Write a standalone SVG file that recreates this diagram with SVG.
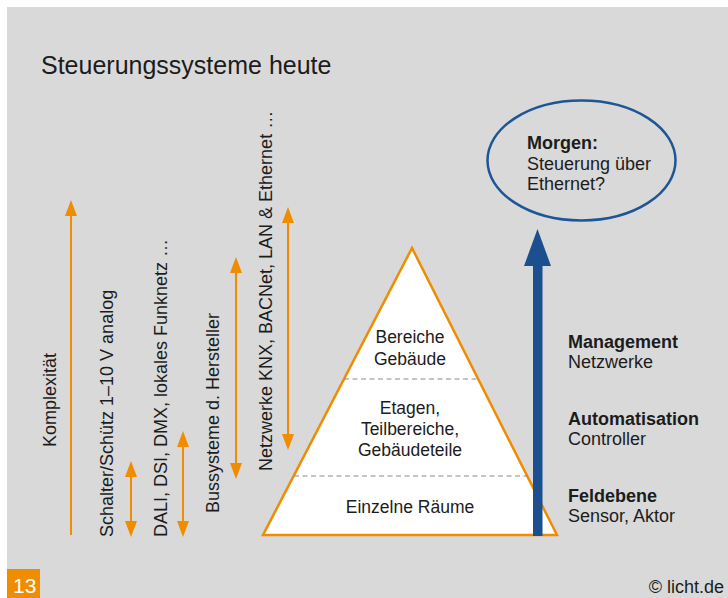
<svg xmlns="http://www.w3.org/2000/svg" width="728" height="598" viewBox="0 0 728 598">
  <style>
    text { font-family: "Liberation Sans", Arial, sans-serif; fill: #1c1c1c; }
    .t18 { font-size: 18px; }
    .b18 { font-size: 18px; font-weight: bold; }
    .pyr { font-size: 17.5px; text-anchor: middle; }
    .orange { stroke: #f08c00; stroke-width: 2; fill: none; }
    .dash { stroke: #8a8a8a; stroke-width: 1; stroke-dasharray: 5 3.5; fill: none; }
  </style>
  <defs>
    <marker id="head" viewBox="0 0 16 12" markerUnits="userSpaceOnUse" markerWidth="16" markerHeight="12" refX="13" refY="6" orient="auto-start-reverse">
      <path d="M0,0 L16,6 L0,12 Z" fill="#f08c00"/>
    </marker>
  </defs>

  <!-- background panel -->
  <rect x="0" y="0" width="728" height="598" fill="#ffffff"/>
  <rect x="7" y="7" width="721" height="591" fill="#d9d9d9"/>

  <!-- title -->
  <text x="41" y="74" style="font-size:25px">Steuerungssysteme heute</text>

  <!-- pyramid of building levels -->
  <g id="pyramid">
    <polygon points="412,248 263,535 557,535" fill="#ffffff" stroke="#f08c00" stroke-width="2.5" stroke-linejoin="miter"/>
    <line class="dash" x1="344" y1="379" x2="478" y2="379"/>
    <line class="dash" x1="294" y1="476" x2="528" y2="476"/>
    <g id="level-top">
      <text class="pyr" x="410" y="343">Bereiche</text>
      <text class="pyr" x="410" y="365">Gebäude</text>
    </g>
    <g id="level-middle">
      <text class="pyr" x="410" y="414">Etagen,</text>
      <text class="pyr" x="410" y="435">Teilbereiche,</text>
      <text class="pyr" x="410" y="456">Gebäudeteile</text>
    </g>
    <g id="level-bottom">
      <text class="pyr" x="410" y="513">Einzelne Räume</text>
    </g>
  </g>

  <!-- connectors: orange ranges and blue level arrow -->
  <g id="connectors">
    <line class="orange" x1="71" y1="535" x2="71" y2="203" marker-end="url(#head)"/>
    <line class="orange" x1="131" y1="534" x2="131" y2="464" marker-start="url(#head)" marker-end="url(#head)"/>
    <line class="orange" x1="183" y1="534" x2="183" y2="434" marker-start="url(#head)" marker-end="url(#head)"/>
    <line class="orange" x1="236" y1="476" x2="236" y2="260" marker-start="url(#head)" marker-end="url(#head)"/>
    <line class="orange" x1="288" y1="447" x2="288" y2="210" marker-start="url(#head)" marker-end="url(#head)"/>
    <g id="level-arrow" fill="#1b4f8f">
      <rect x="533" y="264" width="9.5" height="272"/>
      <polygon points="537.5,229 524,266 551,266"/>
    </g>
  </g>

  <!-- vertical range labels -->
  <g id="range-labels" class="t18">
    <text id="label-komplexitaet" transform="translate(56,447) rotate(-90)">Komplexität</text>
    <text id="label-schalter" transform="translate(113,537) rotate(-90)">Schalter/Schütz 1–10 V analog</text>
    <text id="label-dali" transform="translate(167,537) rotate(-90)">DALI, DSI, DMX, lokales Funknetz …</text>
    <text id="label-bus" transform="translate(219,513) rotate(-90)">Bussysteme d. Hersteller</text>
    <text id="label-netz" transform="translate(272,471) rotate(-90)">Netzwerke KNX, BACNet, LAN &amp; Ethernet …</text>
  </g>

  <!-- future outlook -->
  <g id="morgen">
    <ellipse cx="581.5" cy="160.5" rx="94" ry="60" fill="none" stroke="#1d5597" stroke-width="2.5"/>
    <text class="b18" x="527" y="149">Morgen:</text>
    <text class="t18" x="527" y="170">Steuerung über</text>
    <text class="t18" x="527" y="190">Ethernet?</text>
  </g>

  <!-- level names -->
  <g id="management">
    <text class="b18" x="568" y="348">Management</text>
    <text class="t18" x="568" y="368">Netzwerke</text>
  </g>
  <g id="automatisation">
    <text class="b18" x="568" y="425">Automatisation</text>
    <text class="t18" x="568" y="445">Controller</text>
  </g>
  <g id="feldebene">
    <text class="b18" x="568" y="502">Feldebene</text>
    <text class="t18" x="568" y="522">Sensor, Aktor</text>
  </g>

  <!-- footer -->
  <rect x="7" y="569" width="33" height="29" fill="#f08c00"/>
  <text x="13" y="593" style="font-size:21px; fill:#ffffff">13</text>
  <text x="724" y="593" text-anchor="end" style="font-size:18px">© licht.de</text>
</svg>
